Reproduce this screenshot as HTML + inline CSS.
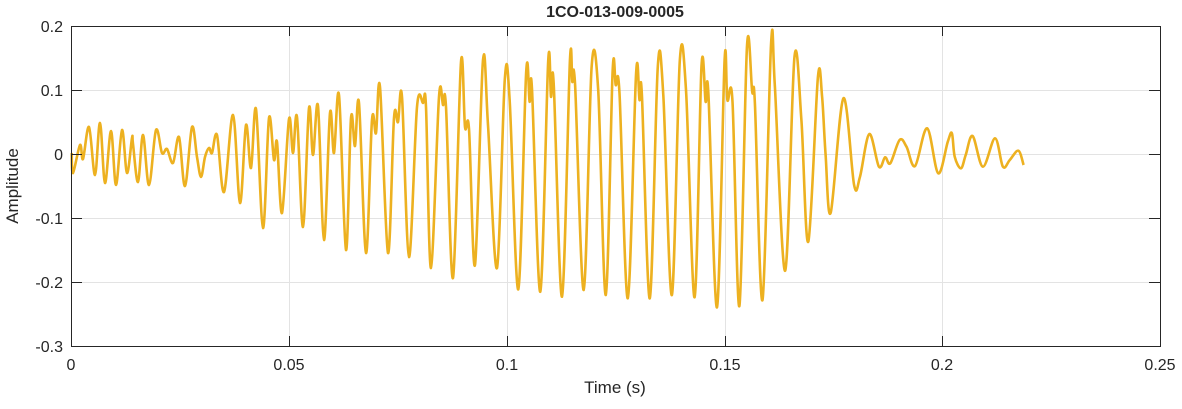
<!DOCTYPE html>
<html><head><meta charset="utf-8"><style>
body{margin:0;background:#fff;}
svg text{font-family:"Liberation Sans",Arial,sans-serif;fill:#262626;}
</style></head><body>
<svg id="s" width="1182" height="404" xmlns="http://www.w3.org/2000/svg">
<rect width="1182" height="404" fill="#fff"/>
<g stroke="#e3e3e3" stroke-width="1">
<line x1="289.5" y1="26" x2="289.5" y2="346"/><line x1="507.5" y1="26" x2="507.5" y2="346"/>
<line x1="725.5" y1="26" x2="725.5" y2="346"/><line x1="942.5" y1="26" x2="942.5" y2="346"/>
<line x1="71" y1="90.5" x2="1160" y2="90.5"/><line x1="71" y1="154.5" x2="1160" y2="154.5"/>
<line x1="71" y1="218.5" x2="1160" y2="218.5"/><line x1="71" y1="282.5" x2="1160" y2="282.5"/>
</g>
<path id="w" fill="none" stroke="#EDB120" stroke-width="2.6" stroke-linejoin="round"/>
<rect x="71.5" y="26.5" width="1089" height="320" fill="none" stroke="#262626" stroke-width="1"/>
<g stroke="#262626" stroke-width="1">
<line x1="289.5" y1="26" x2="289.5" y2="36"/><line x1="507.5" y1="26" x2="507.5" y2="36"/><line x1="725.5" y1="26" x2="725.5" y2="36"/><line x1="942.5" y1="26" x2="942.5" y2="36"/>
<line x1="289.5" y1="346" x2="289.5" y2="336"/><line x1="507.5" y1="346" x2="507.5" y2="336"/><line x1="725.5" y1="346" x2="725.5" y2="336"/><line x1="942.5" y1="346" x2="942.5" y2="336"/>
<line x1="71" y1="90.5" x2="82" y2="90.5"/><line x1="71" y1="154.5" x2="82" y2="154.5"/><line x1="71" y1="218.5" x2="82" y2="218.5"/><line x1="71" y1="282.5" x2="82" y2="282.5"/>
<line x1="1160" y1="90.5" x2="1149" y2="90.5"/><line x1="1160" y1="154.5" x2="1149" y2="154.5"/><line x1="1160" y1="218.5" x2="1149" y2="218.5"/><line x1="1160" y1="282.5" x2="1149" y2="282.5"/>
</g>
<g font-size="16" text-anchor="end">
<text x="63" y="32">0.2</text><text x="63" y="96">0.1</text><text x="63" y="160">0</text>
<text x="63" y="224">-0.1</text><text x="63" y="288">-0.2</text><text x="63" y="352">-0.3</text>
</g>
<g font-size="16" text-anchor="middle">
<text x="71" y="370">0</text><text x="289" y="370">0.05</text><text x="507" y="370">0.1</text>
<text x="725" y="370">0.15</text><text x="942" y="370">0.2</text><text x="1160" y="370">0.25</text>
<text x="615" y="393" font-size="17">Time (s)</text>
<text x="615" y="17" font-size="16" font-weight="bold" fill="#000">1CO-013-009-0005</text>
<text transform="translate(18,186) rotate(-90)" font-size="17">Amplitude</text>
</g>
</svg>
<script>
var p=[[71.7,153],[73,173],[80,145],[83,159],[89,127],[95,175],[100,123],[105,183],[111,131],[116,185],[122,130],[127,173],[132,138],[133,144],[138,182],[143,135],[149,185],[156,130],[162,153],[167,149],[173,163],[179,137],[185,186],[192,127],[197,157],[201,177],[205,157],[209,148],[212,153],[217,135],[224,192],[233,115],[240,203],[246,125],[251,168],[256,109],[263,228],[269,118],[274,160],[277,142],[282,213],[289,119],[293,153],[297,117],[303,227],[309,108],[313,155],[318,106],[324,240],[330,113],[334,153],[339,95],[346,250],[351,118],[355,146],[359,103],[366,253],[372,120],[376,133],[380,87],[388,253],[394,118],[398,122],[402,97],[409,257],[417,107],[423,103],[426,107],[431,268],[439,97],[443,105],[446,107],[453,278],[461,62],[465,127],[469,129],[475,265],[483,60],[488,125],[497,268]];
var z=[[14,178],[28,238],[53,808],[76,155],[86,245],[93,208],[117,815],[140,123],[148,230],[156,192],[180,830],[203,123],[210,185],[218,195],[243,810],[266,142],[285,210],[307,825],[327,155],[336,195],[347,220],[371,835],[395,160],[405,240],[412,225],[435,835],[458,140],[474,225],[499,825],[522,122],[540,210],[565,832],[585,138],[597,245],[605,222],[630,862],[652,120],[660,240],[675,245],[695,858],[717,78],[732,215],[740,250],[762,840],[787,70],[798,200],[828,752],[855,110],[875,300],[895,665],[923,172],[935,230],[945,400],[960,578],[997,235],[1028,495],[1045,470],[1072,342],[1100,440],[1118,412],[1133,430],[1160,360],[1180,380],[1205,438],[1240,325],[1272,460],[1300,365],[1312,340],[1320,410],[1338,445],[1352,405],[1372,348],[1402,440],[1437,355],[1460,440],[1480,420],[1505,392],[1520,435]];
var s=2.903;
z.forEach(function(q){p.push([500+q[0]/s,20+q[1]/3]);});
var d="M"+p[0][0]+","+p[0][1];
for(var i=0;i<p.length-1;i++){var a=p[Math.max(i-1,0)],b=p[i],c=p[i+1],e=p[Math.min(i+2,p.length-1)];
var c1x=b[0]+(c[0]-a[0])/6,c1y=b[1]+(c[1]-a[1])/6,c2x=c[0]-(e[0]-b[0])/6,c2y=c[1]-(e[1]-b[1])/6;
d+=" C"+c1x.toFixed(1)+","+c1y.toFixed(1)+" "+c2x.toFixed(1)+","+c2y.toFixed(1)+" "+c[0].toFixed(1)+","+c[1].toFixed(1);}
document.getElementById("w").setAttribute("d",d);
</script>
</body></html>
